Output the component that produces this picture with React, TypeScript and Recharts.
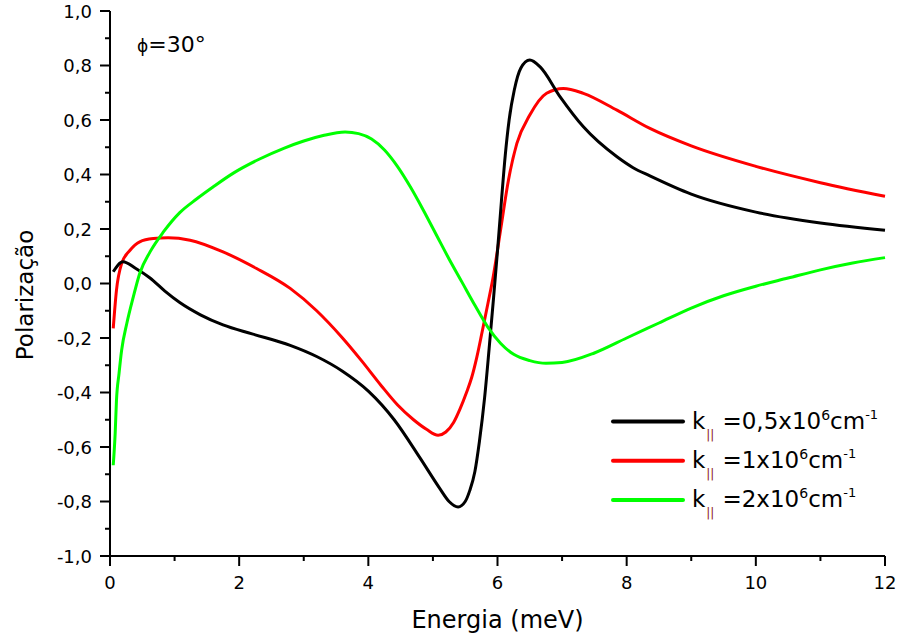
import React from 'react';
import { LineChart, Line, XAxis, YAxis, Customized } from 'recharts';

const FONT = '"DejaVu Sans", "Liberation Sans", sans-serif';

// Tick values (major every 2 on x / 0.2 on y, minor in between)
const xTicks = [0, 1, 2, 3, 4, 5, 6, 7, 8, 9, 10, 11, 12];
const yTicks = [-1, -0.9, -0.8, -0.7, -0.6, -0.5, -0.4, -0.3, -0.2, -0.1, 0, 0.1, 0.2, 0.3, 0.4, 0.5, 0.6, 0.7, 0.8, 0.9, 1];

// k|| = 0.5x10^6 cm^-1 (black)
const energyK05 = [0.05, 0.2, 0.4, 0.62, 0.85, 1.08, 1.4, 1.75, 2.2, 2.79, 3.2, 3.6, 4.0, 4.4, 4.8, 5.1, 5.25, 5.39, 5.5, 5.57, 5.65, 5.72, 5.8, 5.87, 5.94, 6.0, 6.06, 6.12, 6.18, 6.26, 6.36, 6.5, 6.66, 6.97, 7.33, 7.85, 8.1, 8.36, 9, 10, 11, 12];
const polK05 = [0.043, 0.08, 0.055, 0.02, -0.028, -0.07, -0.115, -0.152, -0.185, -0.227, -0.268, -0.322, -0.395, -0.5, -0.64, -0.75, -0.8, -0.82, -0.8, -0.76, -0.69, -0.58, -0.42, -0.24, -0.05, 0.12, 0.3, 0.47, 0.6, 0.71, 0.79, 0.82, 0.795, 0.685, 0.575, 0.465, 0.425, 0.395, 0.328, 0.262, 0.222, 0.195];

// k|| = 1x10^6 cm^-1 (red)
const energyK1 = [0.05, 0.1, 0.18, 0.31, 0.46, 0.67, 0.9, 1.24, 1.75, 2.27, 2.79, 3.2, 3.6, 3.9, 4.2, 4.45, 4.7, 4.9, 5.08, 5.2, 5.32, 5.42, 5.52, 5.6, 5.68, 5.76, 5.85, 5.93, 6.05, 6.17, 6.3, 6.5, 6.76, 7.02, 7.33, 7.85, 8.36, 9, 10, 11, 12];
const polK1 = [-0.165, -0.025, 0.073, 0.122, 0.153, 0.165, 0.168, 0.159, 0.116, 0.055, -0.018, -0.1, -0.2, -0.285, -0.375, -0.445, -0.5, -0.535, -0.557, -0.545, -0.51, -0.46, -0.4, -0.345, -0.27, -0.18, -0.075, 0.02, 0.2, 0.38, 0.514, 0.618, 0.698, 0.716, 0.698, 0.636, 0.569, 0.505, 0.43, 0.37, 0.32];

// k|| = 2x10^6 cm^-1 (green)
const energyK2 = [0.05, 0.08, 0.1, 0.14, 0.18, 0.26, 0.36, 0.46, 0.62, 0.83, 1.08, 1.34, 1.6, 1.91, 2.3, 2.7, 3.0, 3.3, 3.64, 3.85, 4.05, 4.25, 4.45, 4.65, 4.85, 5.05, 5.25, 5.45, 5.65, 5.85, 6.05, 6.25, 6.5, 6.75, 7.0, 7.5, 8.0, 8.5, 9.0, 9.5, 10, 10.5, 11, 11.5, 12];
const polK2 = [-0.667, -0.55, -0.43, -0.33, -0.245, -0.147, -0.05, 0.037, 0.116, 0.19, 0.26, 0.31, 0.355, 0.405, 0.455, 0.497, 0.523, 0.543, 0.556, 0.55, 0.53, 0.49, 0.43, 0.355, 0.27, 0.18, 0.09, 0.005, -0.08, -0.16, -0.22, -0.26, -0.283, -0.293, -0.29, -0.255, -0.2, -0.145, -0.09, -0.045, -0.01, 0.02, 0.05, 0.075, 0.095];

const seriesColors = ['#000000', '#ff0000', '#00ff00'];
const legendValues = ['0,5', '1', '2'];

const toPoints = (xs: number[], ys: number[]) => xs.map((x, i) => ({ x, y: ys[i] }));
const dataK05 = toPoints(energyK05, polK05);
const dataK1 = toPoints(energyK1, polK1);
const dataK2 = toPoints(energyK2, polK2);

const fmtY = (v: number) => v.toFixed(1).replace('.', ',');
const isMajorX = (v: number) => Math.round(v) % 2 === 0;
const isMajorY = (v: number) => Math.round(v * 10) % 2 === 0;

const BottomTick = (p: any) => {
  const { x, y, payload } = p;
  const major = isMajorX(payload.value);
  return (
    <g>
      <line x1={x} y1={y} x2={x} y2={y + (major ? 10 : 5)} stroke="#000" strokeWidth={2} />
      {major && (
        <text x={x} y={y + 33} textAnchor="middle" fontSize={18} fontFamily={FONT} fill="#000">
          {payload.value}
        </text>
      )}
    </g>
  );
};

const TopTick = (p: any) => {
  const { x, y, payload } = p;
  const major = isMajorX(payload.value);
  return <line x1={x} y1={y} x2={x} y2={y + (major ? 10 : 5)} stroke="#000" strokeWidth={2} />;
};

const LeftTick = (p: any) => {
  const { x, y, payload } = p;
  const major = isMajorY(payload.value);
  return (
    <g>
      <line x1={x} y1={y} x2={x - (major ? 10 : 5)} y2={y} stroke="#000" strokeWidth={2} />
      {major && (
        <text x={x - 18} y={y + 6.5} textAnchor="end" fontSize={18} fontFamily={FONT} fill="#000">
          {fmtY(payload.value)}
        </text>
      )}
    </g>
  );
};

const RightTick = (p: any) => {
  const { x, y, payload } = p;
  const major = isMajorY(payload.value);
  return <line x1={x} y1={y} x2={x - (major ? 10 : 5)} y2={y} stroke="#000" strokeWidth={2} />;
};

const Overlay = () => (
  <g>
    {/* annotation */}
    <text x={137} y={52} fontFamily={FONT} fill="#000">
      <tspan fontSize={17}>ϕ</tspan>
      <tspan fontSize={22}>=30°</tspan>
    </text>
    {/* axis titles */}
    <text x={497.5} y={628} textAnchor="middle" fontSize={24} fontFamily={FONT} fill="#000">
      Energia (meV)
    </text>
    <text x={33} y={295} transform="rotate(-90 33 295)" textAnchor="middle" fontSize={23} fontFamily={FONT} fill="#000">
      Polarização
    </text>
    {/* legend */}
    {legendValues.map((v, i) => {
      const ly = 421.5 + i * 39.3;
      return (
        <g key={i}>
          <line x1={613} y1={ly} x2={683} y2={ly} stroke={seriesColors[i]} strokeWidth={4} strokeLinecap="round" />
          <text x={692} y={ly + 7} fontSize={23} fontFamily={FONT} fill="#000">
            k
            <tspan dx={1} dy={10} fontSize={12} fill="#8b2020">||</tspan>
            <tspan dx={8} dy={-10} fontSize={23}>={v}x10</tspan>
            <tspan dy={-9} fontSize={14}>6</tspan>
            <tspan dy={9} fontSize={23}>cm</tspan>
            <tspan dy={-10} fontSize={13}>-1</tspan>
          </text>
        </g>
      );
    })}
  </g>
);

export default function App() {
  return (
    <div style={{ position: 'absolute', left: 0, top: 0, width: 901, height: 641, background: '#fff' }}>
      <LineChart width={901} height={641} margin={{ top: 11, right: 16, bottom: 45, left: 50 }}>
        <XAxis
          xAxisId="b"
          dataKey="x"
          type="number"
          domain={[0, 12]}
          ticks={xTicks}
          interval={0}
          height={40}
          tickSize={0}
          tickMargin={0}
          tickLine={false}
          axisLine={{ stroke: '#000', strokeWidth: 2 }}
          tick={(p: any) => <BottomTick {...p} />}
        />
        <XAxis
          xAxisId="t"
          dataKey="x"
          type="number"
          orientation="top"
          mirror
          domain={[0, 12]}
          ticks={xTicks}
          interval={0}
          height={0}
          tickSize={0}
          tickMargin={0}
          tickLine={false}
          axisLine={{ stroke: '#000', strokeWidth: 2 }}
          tick={(p: any) => <TopTick {...p} />}
        />
        <YAxis
          yAxisId="l"
          type="number"
          domain={[-1, 1]}
          ticks={yTicks}
          interval={0}
          width={60}
          tickSize={0}
          tickMargin={0}
          tickLine={false}
          axisLine={{ stroke: '#000', strokeWidth: 2 }}
          tick={(p: any) => <LeftTick {...p} />}
        />
        <YAxis
          yAxisId="r"
          type="number"
          orientation="right"
          mirror
          domain={[-1, 1]}
          ticks={yTicks}
          interval={0}
          width={0}
          tickSize={0}
          tickMargin={0}
          tickLine={false}
          axisLine={{ stroke: '#000', strokeWidth: 2 }}
          tick={(p: any) => <RightTick {...p} />}
        />
        <Line xAxisId="b" yAxisId="l" data={dataK1} dataKey="y" type="monotone" stroke={seriesColors[1]} strokeWidth={3} dot={false} isAnimationActive={false} />
        <Line xAxisId="b" yAxisId="l" data={dataK05} dataKey="y" type="monotone" stroke={seriesColors[0]} strokeWidth={3} dot={false} isAnimationActive={false} />
        <Line xAxisId="b" yAxisId="l" data={dataK2} dataKey="y" type="monotone" stroke={seriesColors[2]} strokeWidth={3} dot={false} isAnimationActive={false} />
        <Customized component={Overlay} />
      </LineChart>
    </div>
  );
}
